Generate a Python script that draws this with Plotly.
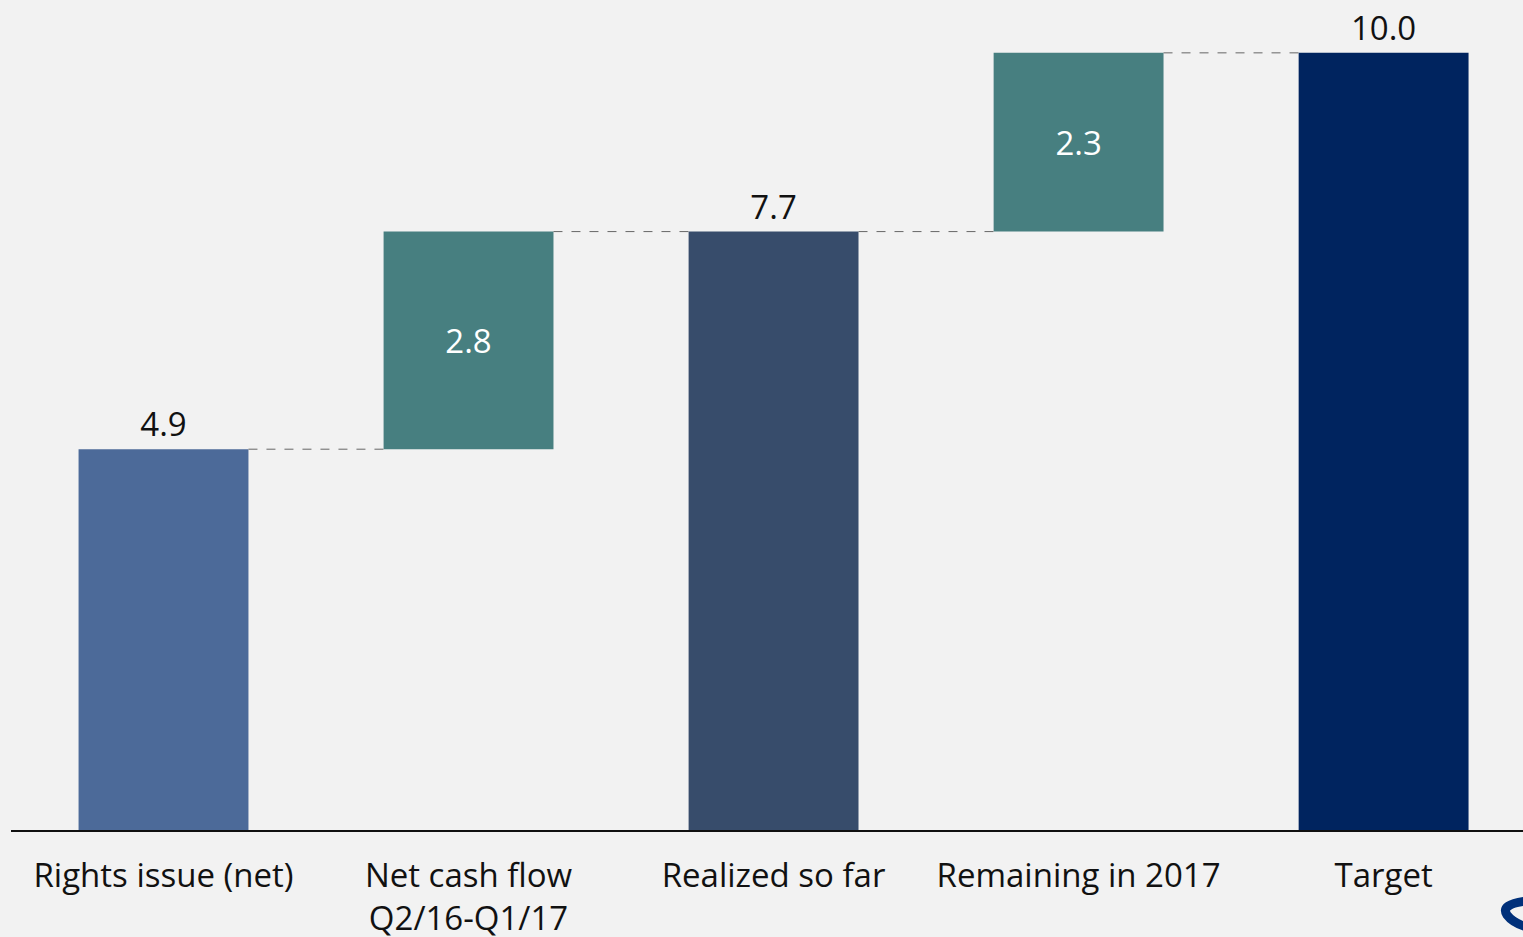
import plotly.graph_objects as go

categories = ["Rights issue (net)", "Net cash flow<br>Q2/16-Q1/17", "Realized so far", "Remaining in 2017", "Target"]
values = [4.9, 2.8, 7.7, 2.3, 10.0]
bases = [0, 4.9, 0, 7.7, 0]
kinds = ["total", "delta", "total", "delta", "total"]
colors = ["#4c6a99", "#477f80", "#374c6b", "#477f80", "#00245f"]

FONT = "Open Sans"
BAR_W = 0.557
ML, MB, W, H = 11, 107, 1523, 937

text_pos = ["outside" if k == "total" else "inside" for k in kinds]

fig = go.Figure()
fig.add_trace(go.Bar(
    x=list(range(len(categories))),
    y=values,
    base=bases,
    width=BAR_W,
    marker=dict(color=colors, line=dict(width=0)),
    text=[f"{v:.1f}" for v in values],
    textposition=text_pos,
    insidetextanchor="middle",
    outsidetextfont=dict(family=FONT, size=33, color="#111111"),
    insidetextfont=dict(family=FONT, size=33, color="#ffffff"),
    cliponaxis=False,
    constraintext="none",
    hoverinfo="skip",
))

shapes = []
for i in range(len(values) - 1):
    level = bases[i] + values[i]
    shapes.append(dict(
        type="line", xref="x", yref="y",
        x0=i + BAR_W / 2, x1=i + 1 - BAR_W / 2, y0=level, y1=level,
        line=dict(color="#666666", width=1, dash="dash"),
    ))

# partial logo glyph at the bottom-right corner (decorative)
def px(x, y):
    return (x - ML) / (W - ML), (H - MB - y) / (H - MB)

pts = [px(1527, 901), px(1500, 904), px(1507, 915), px(1513, 923), px(1527, 927)]
path = "M {:.5f},{:.5f} Q {:.5f},{:.5f} {:.5f},{:.5f} Q {:.5f},{:.5f} {:.5f},{:.5f}".format(
    *pts[0], *pts[1], *pts[2], *pts[3], *pts[4])
shapes.append(dict(type="path", xref="paper", yref="paper", path=path,
                   line=dict(color="#00307a", width=9)))

fig.update_layout(
    width=W, height=H,
    margin=dict(l=ML, r=0, t=0, b=MB, autoexpand=False),
    paper_bgcolor="#f2f2f2",
    plot_bgcolor="#f2f2f2",
    showlegend=False,
    shapes=shapes,
    xaxis=dict(
        range=[-0.5, 4.457],
        tickmode="array",
        tickvals=list(range(len(categories))),
        ticktext=categories,
        tickfont=dict(family=FONT, size=33, color="#111111"),
        showline=True, linecolor="#111111", linewidth=2,
        showgrid=False, zeroline=False,
        ticks="outside", ticklen=15, tickcolor="rgba(0,0,0,0)",
        automargin=False,
        fixedrange=True,
    ),
    yaxis=dict(
        range=[0, 10.68],
        visible=False,
        showgrid=False, zeroline=False,
        automargin=False,
        fixedrange=True,
    ),
)

fig.write_html("out.html")
